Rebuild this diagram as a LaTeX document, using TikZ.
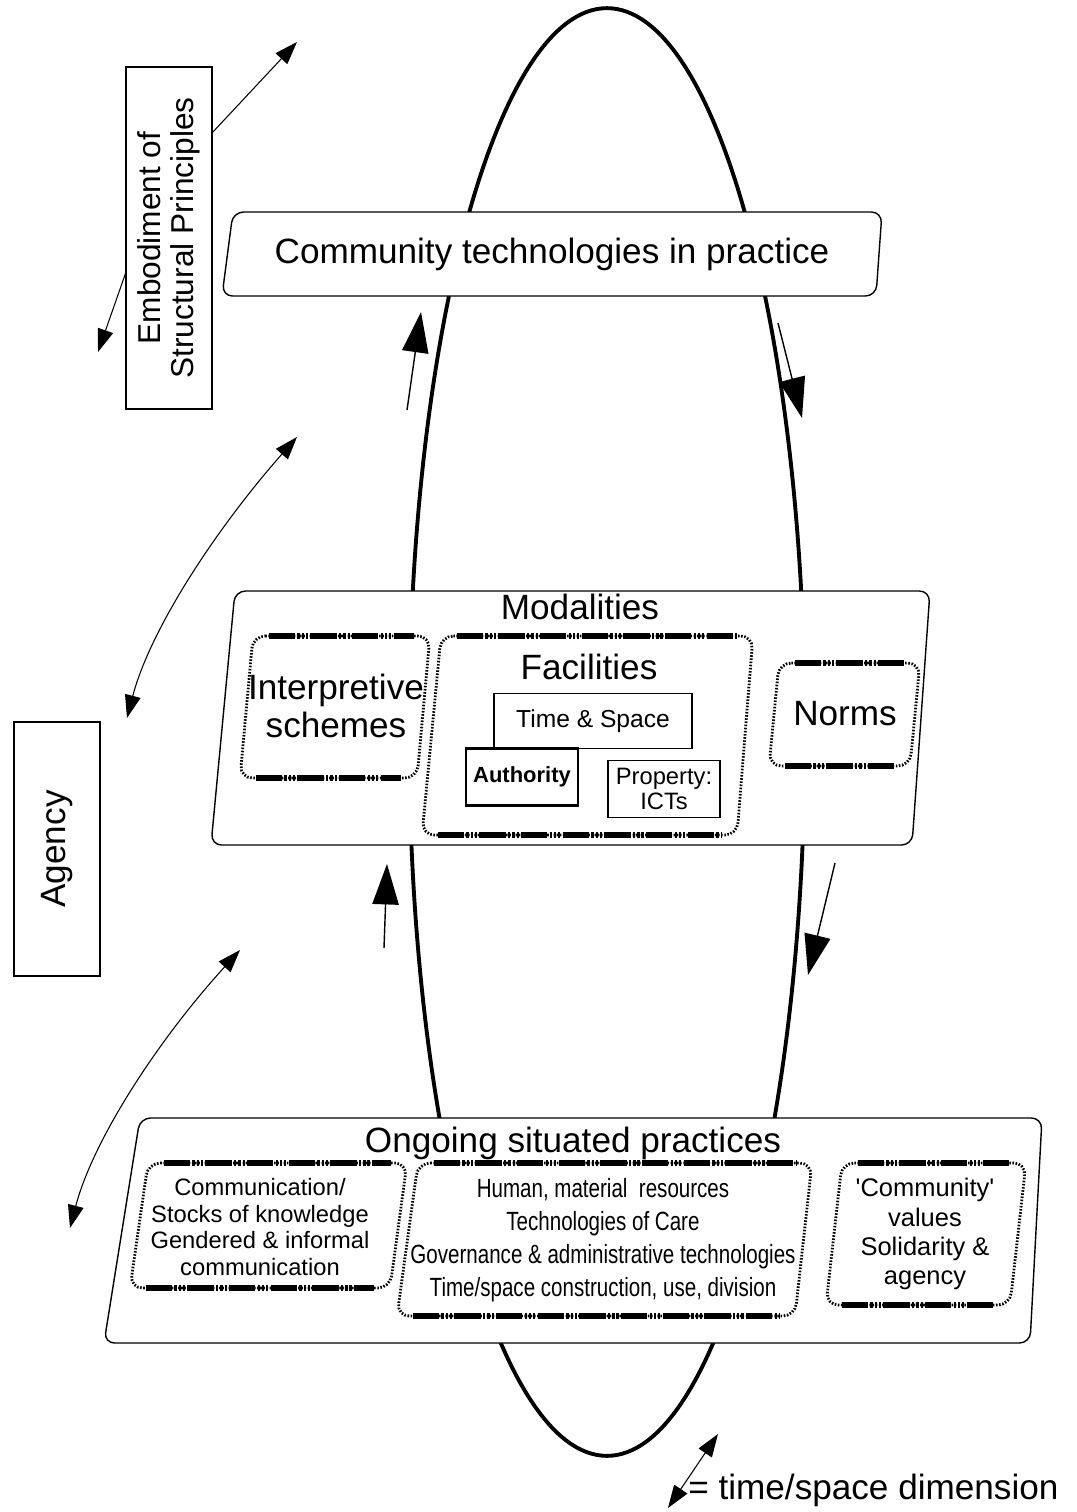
\documentclass[tikz,border=0pt]{standalone}
\usepackage{fontspec}
\setmainfont{Liberation Sans}
\newfontfamily\narrowfont[FakeStretch=0.78]{Liberation Sans}
\usetikzlibrary{arrows.meta,calc}

% dotted frame with heavy dash-dot top and bottom edges: corners TL TR BR BL
\newcommand\dashframe[4]{%
  \draw[sidedots] (#1) -- (#2) -- (#3) -- (#4) -- cycle;
  \draw[edgedash] ($(#1)!9pt!(#2)$) -- ($(#2)!9pt!(#1)$);
  \draw[edgedash] ($(#4)!9pt!(#3)$) -- ($(#3)!9pt!(#4)$);
}

\begin{document}
\begin{tikzpicture}[x=0.02cm,y=-0.02cm,
  panel/.style={draw=black,line width=0.8pt,fill=white,rounded corners=6pt},
  plainbox/.style={draw=black,line width=0.8pt,fill=white},
  sidedots/.style={line width=1.6pt,dash pattern=on 0.9pt off 0.9pt,rounded corners=7pt},
  edgedash/.style={line width=3pt,dash pattern=on 15pt off 1.3pt on 1.3pt off 1.1pt on 1.3pt off 1.1pt on 1.3pt off 1.3pt},
  cyclearrow/.style={line width=0.8pt,-{Triangle[length=23pt,width=15pt]}},
  sidearrow/.style={line width=0.6pt,-{Triangle[length=13pt,width=9pt]}},
  twoarrow/.style={line width=0.6pt,{Triangle[length=13pt,width=9pt]}-{Triangle[length=13pt,width=9pt]}},
  big/.style={font=\fontsize{20}{22}\selectfont},
  small/.style={font=\fontsize{13.5}{15}\selectfont},
]
\useasboundingbox (0,0) rectangle (1077,1512);

% the recursive cycle
\draw[line width=2.2pt] (607,732) ellipse [x radius=3.96cm, y radius=14.48cm];

% ---------- Community technologies in practice ----------
\coordinate (tTL) at (233,212); \coordinate (tTR) at (882,212);
\coordinate (tBR) at (876,296); \coordinate (tBL) at (222,296);
\draw[panel] (tTL) -- (tTR) -- (tBR) -- (tBL) -- cycle;
\node[big] (ctp) at (552,254) {Community technologies in practice};

% ---------- Modalities ----------
\coordinate (mTL) at (235,591); \coordinate (mTR) at (930,591);
\coordinate (mBR) at (912,845); \coordinate (mBL) at (211,845);
\draw[panel] (mTL) -- (mTR) -- (mBR) -- (mBL) -- cycle;
\node[big] (mod) at (580,607) {Modalities};

\coordinate (iTL) at (253,636); \coordinate (iTR) at (430,636);
\coordinate (iBR) at (417,778); \coordinate (iBL) at (240,778);
\dashframe{iTL}{iTR}{iBR}{iBL}
\node[align=center,font=\fontsize{20}{22}\selectfont] (intp) at (336,706) {Interpretive\\schemes};

\coordinate (fTL) at (441,636); \coordinate (fTR) at (753,636);
\coordinate (fBR) at (737,835); \coordinate (fBL) at (422,835);
\dashframe{fTL}{fTR}{fBR}{fBL}
\node[big] (fac) at (589,667) {Facilities};

\node[plainbox,minimum width=3.96cm,minimum height=1.1cm,font=\fontsize{14}{15}\selectfont] (ts) at (593,721) {Time \& Space};
\node[plainbox,line width=1.2pt,minimum width=2.24cm,minimum height=1.14cm,font=\bfseries\fontsize{12.5}{15}\selectfont] (auth) at (522,777) {Authority};
\node[plainbox,minimum width=2.24cm,minimum height=1.14cm,align=center,font=\fontsize{13.5}{14.5}\selectfont] (prop) at (664,789) {Property:\\ICTs};

\coordinate (nTL) at (779,663); \coordinate (nTR) at (920,663);
\coordinate (nBR) at (910,766); \coordinate (nBL) at (769,766);
\dashframe{nTL}{nTR}{nBR}{nBL}
\node[big] (norms) at (845,714) {Norms};

% ---------- Ongoing situated practices ----------
\coordinate (oTL) at (140,1118); \coordinate (oTR) at (1042,1118);
\coordinate (oBR) at (1030,1343); \coordinate (oBL) at (104,1343);
\draw[panel] (oTL) -- (oTR) -- (oBR) -- (oBL) -- cycle;

\coordinate (aTL) at (148,1163); \coordinate (aTR) at (407,1163);
\coordinate (aBR) at (390,1288); \coordinate (aBL) at (130,1288);
\dashframe{aTL}{aTR}{aBR}{aBL}
\coordinate (bTL) at (418,1163); \coordinate (bTR) at (812,1163);
\coordinate (bBR) at (795,1316); \coordinate (bBL) at (397,1316);
\dashframe{bTL}{bTR}{bBR}{bBL}
\coordinate (cTL) at (842,1163); \coordinate (cTR) at (1026,1163);
\coordinate (cBR) at (1010,1305); \coordinate (cBL) at (826,1305);
\dashframe{cTL}{cTR}{cBR}{cBL}

\node[big] (osp) at (573,1143) {Ongoing situated practices};
\node[small,align=center] (comm) at (260,1227)
  {Communication/\\Stocks of knowledge\\Gendered \& informal\\communication};
\node[align=center,font=\narrowfont\fontsize{15}{18.7}\selectfont] (human) at (603,1240)
  {Human, material\ \ resources\\Technologies of Care\\Governance \& administrative technologies\\Time/space construction, use, division};
\node[align=center,font=\fontsize{14.5}{16.6}\selectfont] (cval) at (925,1234)
  {\textquotesingle Community\textquotesingle\\values\\Solidarity \&\\agency};

% ---------- side labels ----------
\node[plainbox,rotate=90,minimum width=6.84cm,minimum height=1.72cm,align=center,
      font=\fontsize{18}{18.7}\selectfont] (emb) at (169,238) {Embodiment of\\Structural Principles};
\node[plainbox,rotate=90,minimum width=5.08cm,minimum height=1.72cm,big] (agency) at (57,849) {Agency};

% ---------- time/space arrows ----------
\coordinate (eR) at (212,133); \coordinate (eRtip) at (297,42);
\coordinate (eL) at (126,272); \coordinate (eLtip) at (98,352);
\draw[sidearrow] (eR) -- (eRtip);
\draw[sidearrow] (eL) -- (eLtip);

\coordinate (c1a) at (127,718); \coordinate (c1b) at (297,437);
\draw[twoarrow] (c1a) .. controls (150,630) and (215,530) .. (c1b);
\coordinate (c2a) at (70,1228); \coordinate (c2b) at (240,950);
\draw[twoarrow] (c2a) .. controls (93,1140) and (158,1040) .. (c2b);

\coordinate (lgA) at (668,1508); \coordinate (lgB) at (718,1434);
\draw[twoarrow] (lgA) -- (lgB);
\node[big,anchor=west,inner sep=0pt] (legend) at (688,1490) {= time/space dimension};

% ---------- direction of the cycle ----------
\coordinate (u1s) at (407,410); \coordinate (u1t) at (421,312);
\draw[cyclearrow] (u1s) -- (u1t);
\coordinate (d1s) at (778,323); \coordinate (d1t) at (802,418);
\draw[cyclearrow] (d1s) -- (d1t);
\coordinate (u2s) at (384,948); \coordinate (u2t) at (387,864);
\draw[cyclearrow] (u2s) -- (u2t);
\coordinate (d2s) at (835,863); \coordinate (d2t) at (808,975);
\draw[cyclearrow] (d2s) -- (d2t);
\end{tikzpicture}
\end{document}
